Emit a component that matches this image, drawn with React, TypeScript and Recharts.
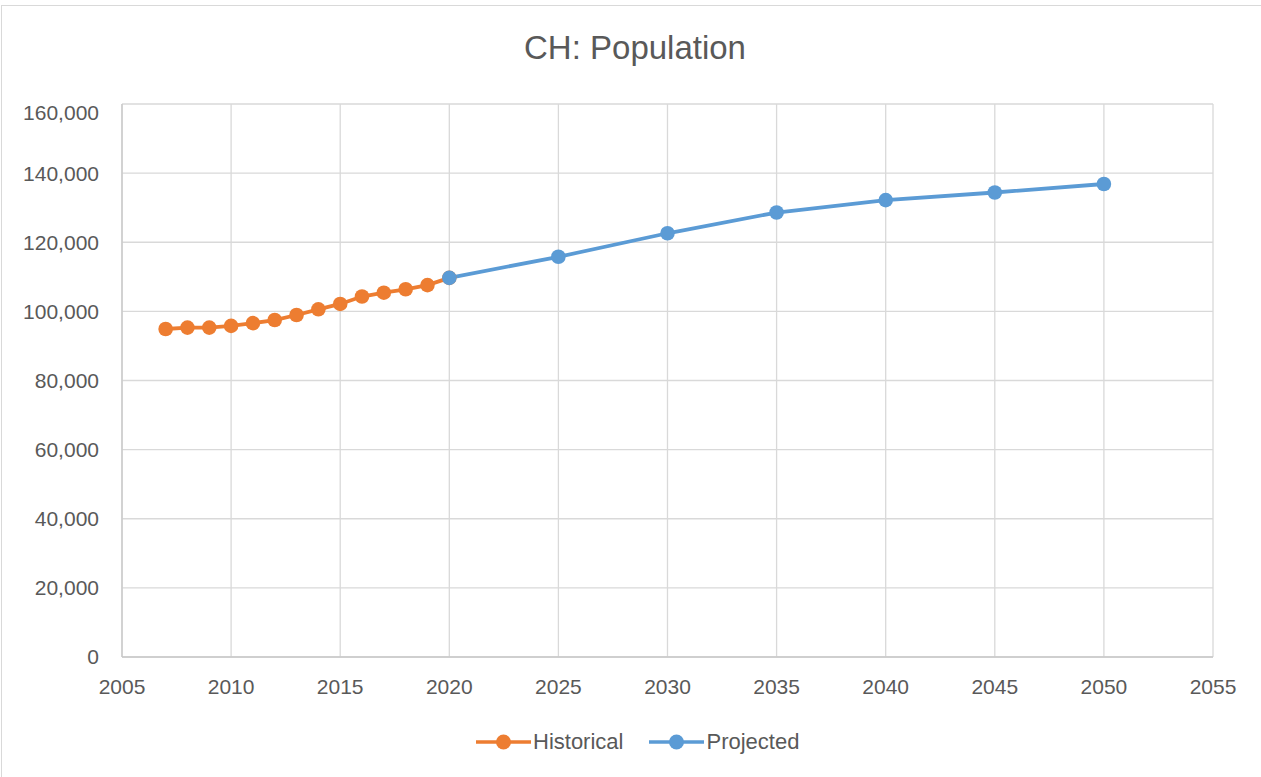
import React from "react";
import { LineChart, Line, XAxis, YAxis, CartesianGrid } from "recharts";

const historicalYears = [2007, 2008, 2009, 2010, 2011, 2012, 2013, 2014, 2015, 2016, 2017, 2018, 2019, 2020];
const historicalValues = [94900, 95300, 95300, 95800, 96600, 97500, 98950, 100600, 102150, 104300, 105400, 106400, 107600, 109700];
const projectedYears = [2020, 2025, 2030, 2035, 2040, 2045, 2050];
const projectedValues = [109700, 115800, 122600, 128600, 132200, 134400, 136850];
const xTicks = [2005, 2010, 2015, 2020, 2025, 2030, 2035, 2040, 2045, 2050, 2055];
const yTicks = [0, 20000, 40000, 60000, 80000, 100000, 120000, 140000, 160000];

const historical = historicalYears.map((x, i) => ({ x, y: historicalValues[i] }));
const projected = projectedYears.map((x, i) => ({ x, y: projectedValues[i] }));

const ORANGE = "#ED7D31";
const BLUE = "#5B9BD5";
const TEXT = "#595959";
const FONT = "'Liberation Sans', Arial, sans-serif";

const fmt = (v: number) => v.toLocaleString("en-US");

function LegendItem({ color, label }: { color: string; label: string }) {
  return (
    <div style={{ display: "flex", alignItems: "center", marginRight: 26 }}>
      <svg width={55} height={20}>
        <line x1={0} y1={10} x2={55} y2={10} stroke={color} strokeWidth={3.5} />
        <circle cx={27.5} cy={10} r={7.5} fill={color} />
      </svg>
      <span style={{ marginLeft: 2, fontSize: 22, color: TEXT, fontFamily: FONT }}>{label}</span>
    </div>
  );
}

export default function App() {
  return (
    <div style={{ position: "absolute", left: 0, top: 0, width: 1261, height: 777, background: "#fff", overflow: "hidden" }}>
      <div style={{ position: "absolute", left: 1, top: 5, width: 1300, height: 800, borderLeft: "1px solid #d9d9d9", borderTop: "1px solid #d9d9d9" }} />
      <div style={{ position: "absolute", left: 0, top: 29, width: 1270, textAlign: "center", fontSize: 33, color: TEXT, fontFamily: FONT }}>
        CH: Population
      </div>
      <div style={{ position: "absolute", left: 0, top: 100 }}>
        <LineChart width={1261} height={677} margin={{ top: 4, right: 48, bottom: 20, left: 0 }}>
          <CartesianGrid stroke="#d9d9d9" strokeWidth={1.3} />
          <XAxis
            dataKey="x"
            type="number"
            domain={[2005, 2055]}
            ticks={xTicks}
            allowDuplicatedCategory={false}
            stroke="#c8c8c8"
            strokeWidth={1.3}
            tickLine={false}
            tickSize={0}
            tickMargin={22}
            height={100}
            tick={{ fill: TEXT, fontSize: 21, fontFamily: FONT }}
          />
          <YAxis
            dataKey="y"
            type="number"
            domain={[0, 160000]}
            ticks={yTicks}
            stroke="#c8c8c8"
            strokeWidth={1.3}
            tickLine={false}
            tickSize={0}
            tickMargin={23}
            width={122}
            tickFormatter={fmt}
            tick={{ fill: TEXT, fontSize: 21, fontFamily: FONT }}
          />
          <Line
            data={historical}
            dataKey="y"
            stroke={ORANGE}
            strokeWidth={3.8}
            dot={{ r: 7.3, fill: ORANGE, stroke: ORANGE, strokeWidth: 0 }}
            isAnimationActive={false}
          />
          <Line
            data={projected}
            dataKey="y"
            stroke={BLUE}
            strokeWidth={3.8}
            dot={{ r: 7.3, fill: BLUE, stroke: BLUE, strokeWidth: 0 }}
            isAnimationActive={false}
          />
        </LineChart>
      </div>
      <div style={{ position: "absolute", left: 476, top: 729, display: "flex" }}>
        <LegendItem color={ORANGE} label="Historical" />
        <LegendItem color={BLUE} label="Projected" />
      </div>
    </div>
  );
}
